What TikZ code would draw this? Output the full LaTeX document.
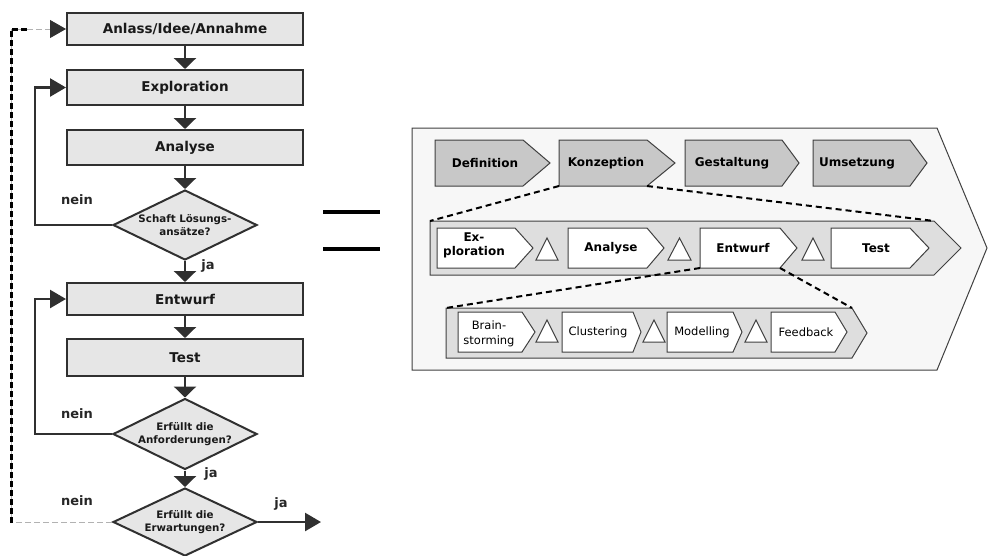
\documentclass[tikz,border=0pt]{standalone}
\usepackage{fontspec}
\setmainfont{DejaVu Sans}
\usetikzlibrary{arrows.meta,shapes.geometric}
\definecolor{boxfill}{HTML}{E6E6E6}
\definecolor{dk}{HTML}{303030}
\definecolor{topfill}{HTML}{C8C8C8}
\definecolor{outerfill}{HTML}{F7F7F7}
\definecolor{bandfill}{HTML}{DEDEDE}
\definecolor{edge}{HTML}{404040}
\newcommand{\rpent}[7]{\draw[#2] (#3,#4) coordinate (#1-nw) -- (#5,#4) coordinate (#1-ne) -- (#6,{(#4+#7)/2}) coordinate (#1-tip) -- (#5,#7) coordinate (#1-se) -- (#3,#7) coordinate (#1-sw) -- cycle;}
\newcommand{\rtri}[4]{\draw[trishape] (#1,#4) -- ({(#1+#2)/2},#3) -- (#2,#4) -- cycle;}
\tikzset{
  flowbox/.style={draw=dk, line width=2pt, fill=boxfill, minimum width=236pt, inner sep=0pt, text=black!90, font=\bfseries\fontsize{13.5}{15}\selectfont},
  decbox/.style={diamond, draw=dk, line width=2pt, fill=boxfill, minimum width=144pt, inner sep=0pt},
  dectext/.style={font=\bfseries\fontsize{10.3}{13}\selectfont, align=center, inner sep=0pt, text=black!90},
  flowarrow/.style={draw=dk, line width=2.5pt, -{Triangle[length=11pt,width=22pt]}},
  sidearrow/.style={draw=dk, line width=2.5pt, -{Triangle[length=16pt,width=18pt]}},
  greydash/.style={draw=black!30, line width=0.8pt, dash pattern=on 6pt off 3pt},
  blackdash/.style={draw=black, line width=3pt, dash pattern=on 6pt off 3pt},
  lbl/.style={font=\bfseries\fontsize{13}{15}\selectfont, text=black!85},
  outershape/.style={draw=edge, line width=1pt, fill=outerfill},
  topshape/.style={draw=edge, line width=1pt, fill=topfill},
  bandshape/.style={draw=edge, line width=1pt, fill=bandfill},
  innershape/.style={draw=edge, line width=1pt, fill=white},
  trishape/.style={draw=edge, line width=1pt, fill=white},
  toptext/.style={font=\bfseries\fontsize{12}{14}\selectfont, align=center, inner sep=0pt},
  subtext/.style={font=\fontsize{11.5}{15.5}\selectfont, align=center, inner sep=0pt},
  linkdash/.style={draw=black, line width=2pt, dash pattern=on 6pt off 4pt}
}
\begin{document}
\begin{tikzpicture}[x=1pt,y=-1pt]
\useasboundingbox (0,0) rectangle (993,555);

% ---------- left flowchart ----------
\node[flowbox, minimum height=32pt] (anlass) at (185,29) {Anlass/Idee/Annahme};
\node[flowbox, minimum height=35pt] (explo) at (185,87.5) {Exploration};
\node[flowbox, minimum height=35pt] (analyse) at (185,147.5) {Analyse};
\node[decbox, minimum height=70pt] (d1) at (185,225) {};
\node[dectext] (d1t) at (185,225) {Schaft Lösungs-\\ansätze?};
\node[flowbox, minimum height=32pt] (entwurf) at (185,299) {Entwurf};
\node[flowbox, minimum height=37pt] (test) at (185,357.5) {Test};
\node[decbox, minimum height=71pt] (d2) at (185,434) {};
\node[dectext] (d2t) at (185,434) {Erfüllt die\\Anforderungen?};
\node[decbox, minimum height=68pt] (d3) at (185,522) {};
\node[dectext] (d3t) at (185,522) {Erfüllt die\\Erwartungen?};
\coordinate (exitpt) at (321,522);
\coordinate (loopc) at (11,523);
\coordinate (loopend) at (27,29);

\draw[flowarrow] (anlass.south) -- (explo.north);
\draw[flowarrow] (explo.south) -- (analyse.north);
\draw[flowarrow] (analyse.south) -- (d1.north);
\draw[flowarrow] (d1.south) -- (entwurf.north);
\draw[flowarrow] (entwurf.south) -- (test.north);
\draw[flowarrow] (test.south) -- (d2.north);
\draw[flowarrow] (d2.south) -- (d3.north);
\draw[sidearrow] (d1.west) -- ++(-77,0) |- (explo.west);
\draw[sidearrow] (d2.west) -- ++(-77,0) |- (entwurf.west);
\draw[sidearrow] (d3.east) -- (exitpt);
\draw[greydash, -{Triangle[length=16pt,width=18pt,color=dk]}] (d3.west) -| (loopc) |- (anlass.west);
\draw[blackdash] (loopc) |- (loopend);

\node[lbl] (nein1) at (77,200) {nein};
\node[lbl] (ja1) at (208,266) {ja};
\node[lbl] (nein2) at (77,414) {nein};
\node[lbl] (ja2) at (211,474) {ja};
\node[lbl] (nein3) at (77,501) {nein};
\node[lbl] (ja3) at (281,504) {ja};

% ---------- equal sign ----------
\fill[black] (323,210) rectangle (380,214);
\fill[black] (323,247) rectangle (380,251);

% ---------- right diagram ----------
\draw[outershape] (412,128) -- (937,128) -- (987,248) -- (937,370) -- (412,370) -- cycle;

\rpent{def}{topshape}{435}{140}{523}{550}{186}
\rpent{konz}{topshape}{559}{140}{647}{675}{186}
\rpent{gest}{topshape}{685}{140}{782}{799}{186}
\rpent{ums}{topshape}{813}{140}{910}{927}{186}
\node[toptext] (tdef) at (485,163) {Definition};
\node[toptext] (tkonz) at (606,163) {Konzeption};
\node[toptext] (tgest) at (732,163) {Gestaltung};
\node[toptext] (tums) at (857,163) {Umsetzung};

\rpent{band1}{bandshape}{430}{221}{934}{961}{275}
\rpent{expl}{innershape}{437}{228}{515}{533}{268}
\rpent{anal}{innershape}{568}{228}{647}{664}{268}
\rpent{entw}{innershape}{700}{228}{780}{797}{268}
\rpent{tst}{innershape}{831}{228}{910}{929}{268}
\rtri{536}{558}{238}{260}
\rtri{668}{691}{238}{260}
\rtri{802}{824}{238}{260}
\node[toptext] (texpl) at (474,245) {Ex-\\ploration};
\node[toptext] (tanal) at (611,248) {Analyse};
\node[toptext] (tentw) at (743,248) {Entwurf};
\node[toptext] (ttst) at (876,248) {Test};

\rpent{band2}{bandshape}{446}{308}{852}{867}{358}
\rpent{brain}{innershape}{458}{312}{522}{535}{352}
\rpent{clus}{innershape}{562}{312}{633}{641}{352}
\rpent{mod}{innershape}{667}{312}{733}{742}{352}
\rpent{feed}{innershape}{771}{312}{835}{847}{352}
\rtri{536}{558}{320}{342}
\rtri{643}{665}{320}{342}
\rtri{745}{767}{320}{342}
\node[subtext] (tbrain) at (489,334) {Brain-\\storming};
\node[subtext] (tclus) at (598,332) {Clustering};
\node[subtext] (tmod) at (702,332) {Modelling};
\node[subtext] (tfeed) at (806,332) {Feedback};

\draw[linkdash] (konz-sw) -- (band1-nw);
\draw[linkdash] (konz-se) -- (band1-ne);
\draw[linkdash] (entw-sw) -- (band2-nw);
\draw[linkdash] (entw-se) -- (band2-ne);
\end{tikzpicture}
\end{document}
